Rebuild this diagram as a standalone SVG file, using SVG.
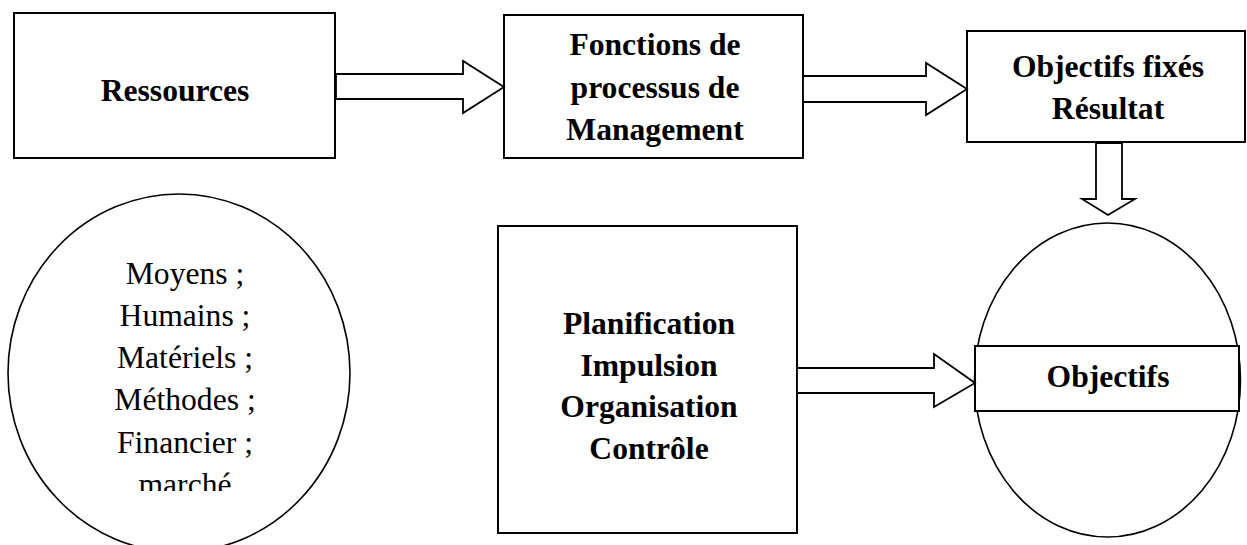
<svg xmlns="http://www.w3.org/2000/svg" width="1247" height="545" viewBox="0 0 1247 545">
<style>
.box{fill:#fff;stroke:#000;stroke-width:2}
.ell{fill:#fff;stroke:#000;stroke-width:1.6}
.arr{fill:#fff;stroke:#000;stroke-width:1.8;stroke-linejoin:miter}
.b{font-family:"Liberation Serif",serif;font-weight:bold;font-size:31px;text-anchor:middle;fill:#000}
.r{font-family:"Liberation Serif",serif;font-size:31px;text-anchor:middle;fill:#000}
</style>
<defs>
<clipPath id="clipL"><rect x="0" y="0" width="400" height="491"/></clipPath>
</defs>
<rect width="1247" height="545" fill="#fff"/>

<g id="ressources">
<rect class="box" x="14" y="13" width="321" height="145"/>
<text class="b" transform="matrix(1.02 0 0 1 175 101)">Ressources</text>
</g>

<g id="fonctions">
<rect class="box" x="504" y="15" width="299" height="143"/>
<text class="b" transform="matrix(1.02 0 0 1 655 0)"><tspan x="0" y="55">Fonctions de</tspan><tspan x="0" y="98">processus de</tspan><tspan x="0" y="140">Management</tspan></text>
</g>

<g id="objectifs-fixes">
<rect class="box" x="967" y="31" width="278" height="111"/>
<text class="b" transform="matrix(1.02 0 0 1 1108 0)"><tspan x="0" y="77">Objectifs fixés</tspan><tspan x="0" y="119">Résultat</tspan></text>
</g>

<g id="moyens">
<ellipse class="ell" cx="179" cy="373" rx="171" ry="179"/>
<g clip-path="url(#clipL)">
<text class="r" transform="matrix(1.02 0 0 1 185 0)"><tspan x="0" y="284">Moyens ;</tspan><tspan x="0" y="326.5">Humains ;</tspan><tspan x="0" y="368">Matériels ;</tspan><tspan x="0" y="410">Méthodes ;</tspan><tspan x="0" y="453">Financier ;</tspan><tspan x="0" y="495">marché</tspan></text>
</g>
</g>

<g id="planification">
<rect class="box" x="498" y="226" width="299" height="307"/>
<text class="b" transform="matrix(1.02 0 0 1 649 0)"><tspan x="0" y="334">Planification</tspan><tspan x="0" y="376">Impulsion</tspan><tspan x="0" y="417">Organisation</tspan><tspan x="0" y="459">Contrôle</tspan></text>
</g>

<g id="objectifs">
<ellipse class="ell" cx="1107.5" cy="380" rx="133" ry="157"/>
<rect class="box" x="975" y="346" width="264" height="65"/>
<text class="b" transform="matrix(1.02 0 0 1 1108 387)">Objectifs</text>
</g>

<g id="connectors">
<polygon class="arr" points="336,74 463,74 463,61 504,87 463,113 463,99 336,99"/>
<polygon class="arr" points="803,76 926,76 926,63 967,89 926,115 926,102 803,102"/>
<polygon class="arr" points="1096,143 1096,199 1082,199 1108,215 1135,199 1122,199 1122,143"/>
<polygon class="arr" points="797,368 934,368 934,354 975,383 934,407 934,393 797,393"/>
</g>
</svg>
